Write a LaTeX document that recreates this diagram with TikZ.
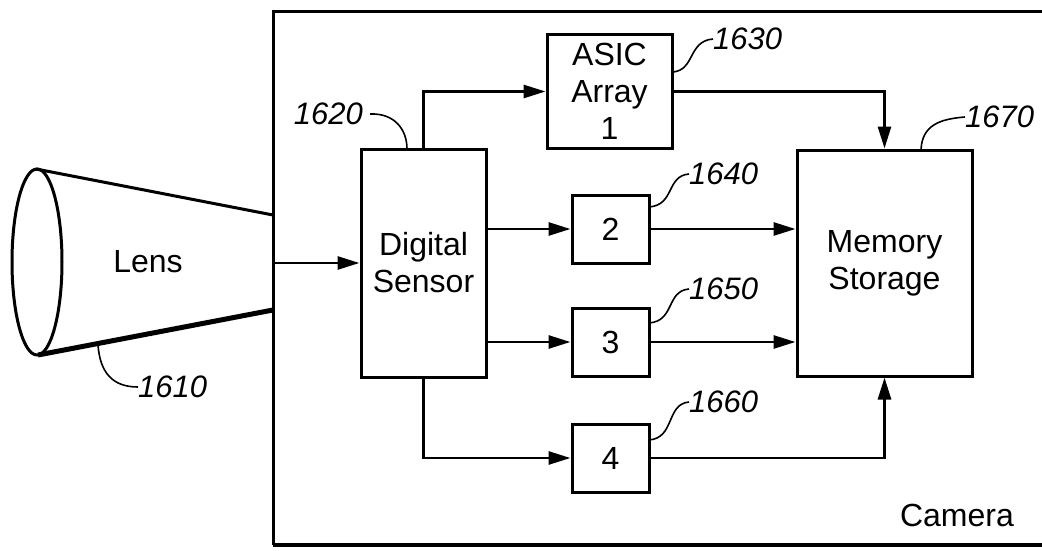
\documentclass[tikz,border=0pt]{standalone}
\usepackage{fontspec}
\setmainfont{Liberation Sans}
\usetikzlibrary{arrows.meta}
\begin{document}
\begin{tikzpicture}[x=1pt,y=-1pt,
  box/.style={draw=black, line width=3pt, align=center, inner sep=0pt,
    font=\fontsize{32}{37}\selectfont},
  arr/.style={draw=black, line width=2.8pt, -{Triangle[length=22pt,width=13pt]}},
  lead/.style={draw=black, line width=1.6pt},
  num/.style={font=\fontsize{31}{36}\selectfont\itshape, inner sep=0pt},
  lbl/.style={font=\fontsize{32}{37}\selectfont, inner sep=0pt}]
\useasboundingbox (0,0) rectangle (1042,551);
% camera frame
\draw[line width=3pt] (1050,12) -- (273,12) -- (273,545);
\draw[line width=4.5pt] (273,545) -- (1050,545);
% lens
\draw[line width=3pt] (37,262) ellipse [x radius=25pt, y radius=93pt];
\draw[line width=3pt] (36,169) -- (273,215);
\draw[line width=5pt] (38,355) -- (273,310);
\node[lbl] (lens) at (148,262) {Lens};
\coordinate (lensout) at (273,263);
% boxes
\node[box, minimum width=125pt, minimum height=228pt] (ds) at (423.5,263) {Digital\\Sensor};
\node[box, minimum width=125pt, minimum height=113pt] (asic) at (609.5,91.5) {ASIC\\Array\\1};
\node[box, minimum width=77pt, minimum height=68pt] (b2) at (610.5,229) {2};
\node[box, minimum width=77pt, minimum height=68pt] (b3) at (610.5,342) {3};
\node[box, minimum width=77pt, minimum height=68pt] (b4) at (610.5,458) {4};
\node[box, minimum width=175pt, minimum height=226pt] (mem) at (884.5,263) {Memory\\Storage};
% connectors
\draw[arr] (lensout) -- (ds.west);
\draw[arr] (ds.north) |- (asic.west);
\draw[arr] (ds.east |- b2.west) -- (b2.west);
\draw[arr] (ds.east |- b3.west) -- (b3.west);
\draw[arr] (ds.south) |- (b4.west);
\draw[arr] (asic.east) -| (mem.north);
\draw[arr] (b2.east) -- (mem.west |- b2.east);
\draw[arr] (b3.east) -- (mem.west |- b3.east);
\draw[arr] (b4.east) -| (mem.south);
% reference numerals
\node[num, anchor=west] (n1610) at (138,387) {1610};
\draw[lead] (98,345) .. controls (100,372) and (112,387) .. (n1610.west);
\node[num, anchor=east] (n1620) at (363,114) {1620};
\draw[lead] (n1620.east) ++(7,0) .. controls (395,113) and (407,130) .. (407,149);
\node[num, anchor=west] (n1630) at (713,39) {1630};
\draw[lead] (673,72) .. controls (695,70) and (688,41) .. (n1630.west);
\node[num, anchor=west] (n1640) at (689,174) {1640};
\draw[lead] (649,207) .. controls (675,205) and (666,176) .. (n1640.west);
\node[num, anchor=west] (n1650) at (689,289) {1650};
\draw[lead] (649,323) .. controls (675,321) and (666,291) .. (n1650.west);
\node[num, anchor=west] (n1660) at (689,402) {1660};
\draw[lead] (649,440) .. controls (675,438) and (666,404) .. (n1660.west);
\node[num, anchor=west] (n1670) at (965,117) {1670};
\draw[lead] (921,150) .. controls (922,125) and (940,119) .. (n1670.west);
\node[lbl] (cam) at (957,515) {Camera};
\end{tikzpicture}
\end{document}
